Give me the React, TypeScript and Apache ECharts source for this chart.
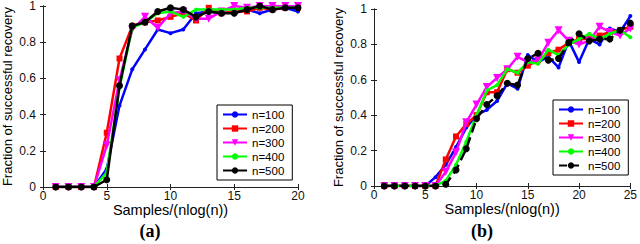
import React, { useEffect, useRef } from "react";
import * as echarts from "echarts";

const seriesNames = ["n=100", "n=200", "n=300", "n=400", "n=500"];
const colors = ["#0000ff", "#ff0000", "#ff00ff", "#00ff00", "#000000"];

// Panel (a)
const xA = [1, 2, 3, 4, 5, 6, 7, 8, 9, 10, 11, 12, 13, 14, 15, 16, 17, 18, 19, 20];
const a100 = [0, 0, 0, 0, 0.1, 0.45, 0.65, 0.76, 0.87, 0.85, 0.87, 0.96, 0.97, 0.96, 0.97, 0.98, 0.96, 0.98, 0.99, 0.97];
const a200 = [0, 0, 0, 0, 0.3, 0.71, 0.89, 0.91, 0.92, 0.94, 0.96, 0.92, 0.99, 0.96, 0.97, 0.97, 0.99, 0.98, 0.99, 0.99];
const a300 = [0, 0, 0, 0, 0.23, 0.59, 0.87, 0.94, 0.88, 0.96, 0.97, 0.93, 0.93, 0.97, 1.0, 0.99, 1.0, 1.0, 1.0, 1.0];
const a400 = [0, 0, 0, 0, 0.08, 0.55, 0.88, 0.91, 0.96, 0.97, 0.94, 0.98, 0.98, 0.98, 0.98, 0.99, 0.99, 0.99, 0.99, 0.99];
const a500 = [0, 0, 0, 0, 0.04, 0.56, 0.89, 0.91, 0.97, 0.99, 0.98, 0.94, 0.97, 0.96, 0.96, 0.98, 1.0, 0.98, 0.99, 0.99];

// Panel (b)
const xB = [1, 2, 3, 4, 5, 6, 7, 8, 9, 10, 11, 12, 13, 14, 15, 16, 17, 18, 19, 20, 21, 22, 23, 24, 25];
const b100 = [0, 0, 0, 0, 0, 0.05, 0.12, 0.22, 0.33, 0.4, 0.43, 0.48, 0.58, 0.55, 0.74, 0.7, 0.73, 0.67, 0.82, 0.7, 0.83, 0.8, 0.89, 0.87, 0.96];
const b200 = [0, 0, 0, 0, 0, 0, 0.15, 0.28, 0.35, 0.4, 0.53, 0.53, 0.66, 0.64, 0.68, 0.71, 0.75, 0.77, 0.81, 0.83, 0.83, 0.85, 0.87, 0.88, 0.9];
const b300 = [0, 0, 0, 0, 0, 0, 0.08, 0.19, 0.36, 0.46, 0.56, 0.61, 0.66, 0.73, 0.7, 0.71, 0.81, 0.88, 0.82, 0.8, 0.82, 0.9, 0.87, 0.85, 0.89];
const b400 = [0, 0, 0, 0, 0, 0, 0.03, 0.12, 0.25, 0.4, 0.54, 0.57, 0.66, 0.64, 0.7, 0.69, 0.77, 0.74, 0.8, 0.83, 0.86, 0.83, 0.86, 0.88, 0.84];
const b500 = [0, 0, 0, 0, 0, 0, 0.01, 0.09, 0.21, 0.38, 0.46, 0.51, 0.58, 0.57, 0.72, 0.75, 0.71, 0.72, 0.81, 0.86, 0.82, 0.83, 0.83, 0.88, 0.92];

const xTitle = "Samples/(nlog(n))";
const yTitle = "Fraction of successful recovery";
const panelLabels = ["(a)", "(b)"];

const FONT = "Liberation Sans, Arial, sans-serif";
const TRI_DOWN = "path://M0,0 L10,0 L5,9 Z";
const symbols = ["circle", "rect", TRI_DOWN, "circle", "circle"];
const symbolSizes = [4, 6, 8, 4, 7];

const App: React.FC = () => {
  const ref = useRef<HTMLDivElement>(null);

  useEffect(() => {
    if (!ref.current) return;
    const chart = echarts.init(ref.current, undefined, { renderer: "svg" });

    const grids = [
      { left: 40, top: 4, width: 258, height: 183 },
      { left: 374, top: 9, width: 259, height: 177 },
    ];
    const maxX = [20, 25];

    const xAxes: any[] = [];
    const yAxes: any[] = [];
    grids.forEach((_, gi) => {
      const common = {
        gridIndex: gi,
        axisLine: { show: true, lineStyle: { color: "#222", width: 1 } },
        axisTick: { show: true, inside: true, length: 3, lineStyle: { color: "#222" } },
        splitLine: { show: false },
      };
      xAxes.push({
        ...common,
        type: "value",
        position: "bottom",
        min: 0,
        max: maxX[gi],
        interval: 5,
        name: xTitle,
        nameLocation: "middle",
        nameGap: 15,
        nameMoveOverlap: false,
        nameTextStyle: { fontFamily: FONT, fontSize: 14.5, color: "#000", verticalAlign: "top", lineHeight: 16 },
        axisLabel: { fontFamily: FONT, fontSize: 12, color: "#111", margin: 3, lineHeight: 12 },
      });
      xAxes.push({
        ...common,
        type: "value",
        position: "top",
        min: 0,
        max: maxX[gi],
        interval: 5,
        axisLabel: { show: false },
      });
      yAxes.push({
        ...common,
        type: "value",
        position: "left",
        min: 0,
        max: 1,
        interval: 0.2,
        name: yTitle,
        nameLocation: "middle",
        nameGap: 29,
        nameMoveOverlap: false,
        nameTextStyle: { fontFamily: FONT, fontSize: 13, color: "#000" },
        axisLabel: { fontFamily: FONT, fontSize: 12, color: "#111", margin: 7 },
      });
      yAxes.push({
        ...common,
        type: "value",
        position: "right",
        min: 0,
        max: 1,
        interval: 0.2,
        axisLabel: { show: false },
      });
    });

    const dataA = [a100, a200, a300, a400, a500];
    const dataB = [b100, b200, b300, b400, b500];
    const series: any[] = [];
    dataA.forEach((arr, i) => {
      series.push({
        type: "line",
        name: seriesNames[i],
        xAxisIndex: 0,
        yAxisIndex: 0,
        data: xA.map((x, k) => [x, arr[k]]),
        symbol: symbols[i],
        symbolSize: symbolSizes[i],
        showAllSymbol: true,
        itemStyle: { color: colors[i] },
        lineStyle: { color: colors[i], width: 2.5 },
        z: 2 + i,
      });
    });
    dataB.forEach((arr, i) => {
      series.push({
        type: "line",
        name: seriesNames[i],
        xAxisIndex: 2,
        yAxisIndex: 2,
        data: xB.map((x, k) => [x, arr[k]]),
        symbol: symbols[i],
        symbolSize: symbolSizes[i],
        showAllSymbol: true,
        itemStyle: { color: colors[i] },
        lineStyle: { color: colors[i], width: 2.5, type: i === 4 ? "dashed" : "solid" },
        z: 2 + i,
      });
    });

    const legendBase = {
      orient: "vertical",
      itemWidth: 24,
      itemHeight: 8,
      itemGap: 1,
      itemTextGap: 3,
      padding: [3, 8, 3, 5],
      borderColor: "#000",
      borderWidth: 1,
      backgroundColor: "#fff",
      textStyle: { fontFamily: FONT, fontSize: 11.5, color: "#000", lineHeight: 13 },
      selectedMode: false,
    };

    chart.setOption({
      animation: false,
      grid: grids.map((g) => ({ ...g, containLabel: false })),
      xAxis: xAxes,
      yAxis: yAxes,
      legend: [
        { ...legendBase, left: 217, top: 105, data: seriesNames },
        {
          ...legendBase,
          left: 553,
          top: 100,
          data: seriesNames.map((n, i) =>
            i === 4 ? { name: n, lineStyle: { type: "dashed" } } : { name: n }
          ),
        },
      ],
      graphic: [
        {
          type: "text",
          x: 150,
          y: 231,
          style: {
            text: panelLabels[0],
            font: "bold 18px 'Liberation Serif', serif",
            fill: "#000",
            align: "center",
            verticalAlign: "middle",
          },
        },
        {
          type: "text",
          x: 482,
          y: 231,
          style: {
            text: panelLabels[1],
            font: "bold 18px 'Liberation Serif', serif",
            fill: "#000",
            align: "center",
            verticalAlign: "middle",
          },
        },
      ],
      series,
    });

    return () => chart.dispose();
  }, []);

  return <div ref={ref} style={{ width: 640, height: 244, position: "absolute", left: 0, top: 0 }} />;
};

export default App;
